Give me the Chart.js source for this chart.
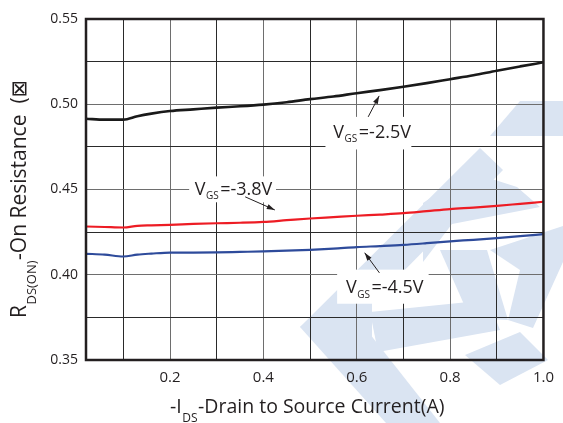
<!DOCTYPE html>
<html>
<head>
<meta charset="utf-8">
<script src="https://cdn.jsdelivr.net/npm/chart.js@4"></script>
<style>
html,body{margin:0;padding:0;background:#fff;}
#wrap{width:563px;height:423px;position:relative;}
</style>
</head>
<body>
<div id="wrap"><canvas id="c" width="563" height="423"></canvas></div>
<script>
// ---- data ----
const currentA = [0.02, 0.06, 0.10, 0.13, 0.16, 0.20, 0.25, 0.30, 0.35, 0.40, 0.45, 0.50, 0.55, 0.60, 0.65, 0.70, 0.75, 0.80, 0.85, 0.90, 0.95, 1.00];
const rdsVgs25 = [0.4915, 0.4910, 0.4910, 0.4930, 0.4945, 0.4960, 0.4970, 0.4980, 0.4988, 0.4998, 0.5012, 0.5030, 0.5045, 0.5065, 0.5083, 0.5103, 0.5124, 0.5147, 0.5170, 0.5197, 0.5222, 0.5246];
const rdsVgs38 = [0.4283, 0.4280, 0.4277, 0.4287, 0.4290, 0.4293, 0.4298, 0.4302, 0.4305, 0.4310, 0.4320, 0.4330, 0.4338, 0.4346, 0.4353, 0.4361, 0.4373, 0.4385, 0.4394, 0.4404, 0.4416, 0.4428];
const rdsVgs45 = [0.4123, 0.4118, 0.4107, 0.4118, 0.4124, 0.4130, 0.4130, 0.4131, 0.4134, 0.4137, 0.4141, 0.4146, 0.4153, 0.4162, 0.4168, 0.4175, 0.4185, 0.4196, 0.4205, 0.4215, 0.4226, 0.4238];
const seriesNames = ['VGS=-2.5V', 'VGS=-3.8V', 'VGS=-4.5V'];
const xGridValues = [0.1, 0.2, 0.3, 0.4, 0.5, 0.6, 0.7, 0.8, 0.9, 1.0];
const xTickLabels = ['0.2', '0.4', '0.6', '0.8', '1.0'];
const yTickLabels = ['0.35', '0.40', '0.45', '0.50', '0.55'];
const yGridValues = [0.35, 0.375, 0.40, 0.425, 0.45, 0.475, 0.50, 0.525, 0.55];

// annotation placements in data units: label centre, white box, arrow tail, arrow head
const notes = [
  {v: '-2.5V', cx: 0.633, cy: 0.4843, box: [0.533, 0.4926, 0.717, 0.4735], ax: 0.6245, ay: 0.4926, hx: 0.648, hy: 0.5049},
  {v: '-3.8V', cx: 0.336, cy: 0.4508, box: [0.241, 0.4577, 0.427, 0.4425], ax: 0.361, ay: 0.4457, hx: 0.4245, hy: 0.4380},
  {v: '-4.5V', cx: 0.660, cy: 0.3930, box: [0.558, 0.4030, 0.754, 0.3830], ax: 0.6486, ay: 0.4011, hx: 0.617, hy: 0.4129}
];

const TXT = '#231f20';
const FONT = "'Open Sans', 'DejaVu Sans', sans-serif";

function pts(ys){ return currentA.map((x,i)=>({x:x, y:ys[i]})); }

const decor = {
  id: 'decor',
  beforeDraw(chart){
    const ctx = chart.ctx;
    ctx.save();
    ctx.fillStyle = '#ffffff';
    ctx.fillRect(0,0,chart.width,chart.height);
    // faint watermark logo (decoration only)
    ctx.fillStyle = 'rgb(218,228,242)';
    const polys = [
      [[490,136],[520,101],[563,101],[563,136]],
      [[300,327],[480,148],[503,170],[338,338]],
      [[300,327],[340,296],[440,423],[386,423]],
      [[340,296],[372,300],[372,360],[350,360]],
      [[423,203],[470,172],[517,187],[540,207],[452,224],[423,262]],
      [[490,250],[563,226],[563,262],[533,328],[508,320],[520,270]],
      [[370,312],[488,300],[500,330],[378,352]],
      [[440,250],[487,250],[508,320],[470,318]],
      [[465,355],[520,332],[548,360],[500,385]]
    ];
    polys.forEach(p=>{ ctx.beginPath(); ctx.moveTo(p[0][0],p[0][1]); for(let i=1;i<p.length;i++) ctx.lineTo(p[i][0],p[i][1]); ctx.closePath(); ctx.fill(); });
    ctx.restore();
  },
  beforeDatasetsDraw(chart){
    const ctx = chart.ctx, xs = chart.scales.x, ys = chart.scales.y;
    ctx.save();
    ctx.fillStyle = '#ffffff';
    notes.forEach(n=>{
      const x0 = xs.getPixelForValue(n.box[0]), y0 = ys.getPixelForValue(n.box[1]);
      const x1 = xs.getPixelForValue(n.box[2]), y1 = ys.getPixelForValue(n.box[3]);
      ctx.fillRect(x0, y0, x1-x0, y1-y0);
    });
    ctx.restore();
  },
  afterDatasetsDraw(chart){
    const ctx = chart.ctx, xs = chart.scales.x, ys = chart.scales.y, a = chart.chartArea;
    ctx.save();
    // frame
    ctx.strokeStyle = '#231f20';
    ctx.lineWidth = 2.5;
    ctx.strokeRect(a.left, a.top, a.right-a.left, a.bottom-a.top);
    // annotations
    notes.forEach(n=>{
      const cx = xs.getPixelForValue(n.cx), cy = ys.getPixelForValue(n.cy);
      ctx.font = "18px " + FONT;
      const w1 = ctx.measureText('V').width;
      const w3 = ctx.measureText('=' + n.v).width;
      ctx.font = "10px " + FONT;
      const w2 = ctx.measureText('GS').width + 2;
      const tot = w1 + w2 + w3;
      let x = cx - tot/2;
      ctx.fillStyle = TXT;
      ctx.textBaseline = 'alphabetic';
      ctx.textAlign = 'left';
      ctx.font = "18px " + FONT;
      ctx.fillText('V', x, cy+6.5);
      ctx.font = "10px " + FONT;
      ctx.fillText('GS', x + w1 + 0.5, cy+11);
      ctx.font = "18px " + FONT;
      ctx.fillText('=' + n.v, x + w1 + w2, cy+6.5);
      // arrow
      const ax = xs.getPixelForValue(n.ax), ay = ys.getPixelForValue(n.ay);
      const hx = xs.getPixelForValue(n.hx), hy = ys.getPixelForValue(n.hy);
      ctx.strokeStyle = TXT; ctx.lineWidth = 1;
      ctx.beginPath(); ctx.moveTo(ax, ay); ctx.lineTo(hx, hy); ctx.stroke();
      const ang = Math.atan2(hy-ay, hx-ax), L = 8, W = 2.6;
      ctx.beginPath();
      ctx.moveTo(hx, hy);
      ctx.lineTo(hx - L*Math.cos(ang) + W*Math.sin(ang), hy - L*Math.sin(ang) - W*Math.cos(ang));
      ctx.lineTo(hx - L*Math.cos(ang) - W*Math.sin(ang), hy - L*Math.sin(ang) + W*Math.cos(ang));
      ctx.closePath(); ctx.fill();
    });
    // x title
    ctx.fillStyle = TXT;
    ctx.textBaseline = 'alphabetic';
    ctx.font = "19.5px " + FONT;
    const p1 = '-I', p3 = '-Drain to Source Current(A)';
    const t1 = ctx.measureText(p1).width;
    ctx.font = "12px " + FONT;
    const t2 = ctx.measureText('DS').width + 1;
    let xx = 170;
    const by = 413;
    ctx.font = "19.5px " + FONT; ctx.fillText(p1, xx, by);
    ctx.font = "12px " + FONT; ctx.fillText('DS', xx + t1 + 0.5, by + 9);
    ctx.font = "19.5px " + FONT; ctx.fillText(p3, xx + t1 + t2, by);
    // y title (rotated)
    ctx.translate(26, 0);
    ctx.rotate(-Math.PI/2);
    ctx.font = "21px " + FONT;
    const q1 = 'R', q3 = '-On Resistance  (\u22A0';
    const r1 = ctx.measureText(q1).width;
    ctx.font = "13px " + FONT;
    const r2 = ctx.measureText('DS(ON)').width + 1;
    let yy = -318;
    ctx.font = "21px " + FONT; ctx.fillText(q1, yy, 0);
    ctx.font = "13px " + FONT; ctx.fillText('DS(ON)', yy + r1 + 0.5, 10);
    ctx.font = "21px " + FONT; ctx.fillText(q3, yy + r1 + r2, 0);
    ctx.restore();
  }
};

new Chart(document.getElementById('c'), {
  type: 'line',
  data: {
    datasets: [
      {label: seriesNames[0], data: pts(rdsVgs25), borderColor: '#1a1a1a', borderWidth: 2.6, pointRadius: 0, cubicInterpolationMode: 'monotone'},
      {label: seriesNames[1], data: pts(rdsVgs38), borderColor: '#ed1c24', borderWidth: 2.2, pointRadius: 0, cubicInterpolationMode: 'monotone'},
      {label: seriesNames[2], data: pts(rdsVgs45), borderColor: '#2e4b9b', borderWidth: 2.2, pointRadius: 0, cubicInterpolationMode: 'monotone'}
    ]
  },
  options: {
    responsive: false,
    animation: false,
    devicePixelRatio: 1,
    layout: {padding: {left: 0, right: 12, top: 19, bottom: 0}},
    plugins: {legend: {display: false}, tooltip: {enabled: false}},
    scales: {
      x: {
        type: 'linear', min: 0.02, max: 1.0,
        afterBuildTicks: s => { s.ticks = xGridValues.map(v => ({value: v})); },
        afterFit: s => { s.height = 63; },
        border: {display: false},
        grid: {color: c => (xTickLabels.includes(c.tick && c.tick.value.toFixed(1)) ? '#6e6e6e' : '#2a2a2a'), lineWidth: 1, drawTicks: false},
        ticks: {
          padding: 9, color: TXT, font: {family: FONT, size: 15}, maxRotation: 0, autoSkip: false,
          callback: v => { const s = Number(v).toFixed(1); return xTickLabels.includes(s) ? s : ''; }
        }
      },
      y: {
        type: 'linear', min: 0.35, max: 0.55,
        afterBuildTicks: s => { s.ticks = yGridValues.map(v => ({value: v})); },
        afterFit: s => { s.width = 86; },
        border: {display: false},
        grid: {color: c => (yTickLabels.includes(c.tick && c.tick.value.toFixed(2)) ? '#6e6e6e' : '#2a2a2a'), lineWidth: 1, drawTicks: false},
        ticks: {
          padding: 8, color: TXT, font: {family: FONT, size: 14}, autoSkip: false,
          callback: v => { const s = Number(v).toFixed(2); return yTickLabels.includes(s) ? s : ''; }
        }
      }
    }
  },
  plugins: [decor]
});
</script>
</body>
</html>
